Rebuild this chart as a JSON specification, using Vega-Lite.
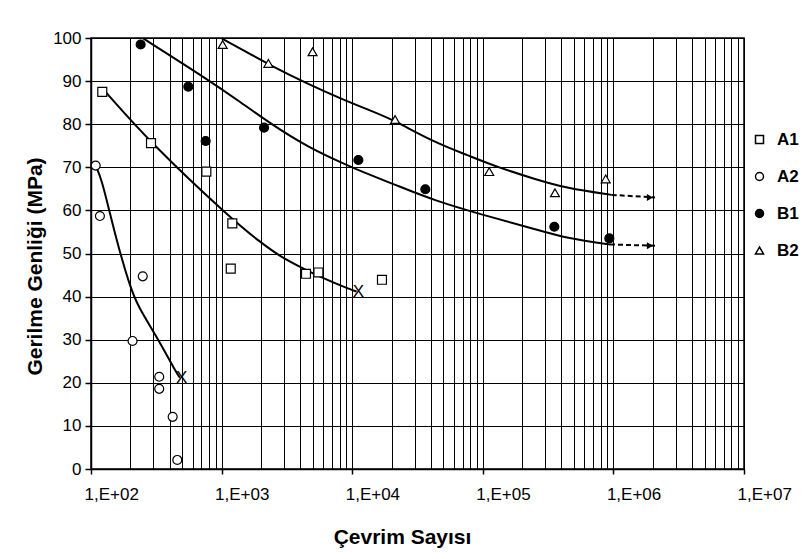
{
  "$schema": "https://vega.github.io/schema/vega-lite/v6.json",
  "autosize": {"type": "none"},
  "padding": {"left": 91, "top": 38, "right": 58, "bottom": 90},
  "width": 653,
  "height": 431,
  "background": "white",
  "config": {"view": {"stroke": "black", "strokeWidth": 1.5}, "font": "Liberation Sans"},
  "datasets": {
    "points": [
      {"series": "A1", "N": 122, "v": 87.5},
      {"series": "A1", "N": 288, "v": 75.6},
      {"series": "A1", "N": 764, "v": 69.0},
      {"series": "A1", "N": 1208, "v": 57.0},
      {"series": "A1", "N": 1175, "v": 46.5},
      {"series": "A1", "N": 4427, "v": 45.3},
      {"series": "A1", "N": 5510, "v": 45.6},
      {"series": "A1", "N": 16900, "v": 43.9},
      {"series": "A2", "N": 108.6, "v": 70.4},
      {"series": "A2", "N": 117, "v": 58.7},
      {"series": "A2", "N": 249, "v": 44.7},
      {"series": "A2", "N": 208, "v": 29.7},
      {"series": "A2", "N": 333, "v": 21.4},
      {"series": "A2", "N": 333, "v": 18.6},
      {"series": "A2", "N": 422, "v": 12.1},
      {"series": "A2", "N": 458, "v": 2.1},
      {"series": "B1", "N": 240, "v": 98.5},
      {"series": "B1", "N": 556, "v": 88.7},
      {"series": "B1", "N": 755, "v": 76.1},
      {"series": "B1", "N": 2113, "v": 79.2},
      {"series": "B1", "N": 11150, "v": 71.7},
      {"series": "B1", "N": 36300, "v": 64.9},
      {"series": "B1", "N": 353000, "v": 56.2},
      {"series": "B1", "N": 931000, "v": 53.5},
      {"series": "B2", "N": 1019, "v": 98.5},
      {"series": "B2", "N": 2281, "v": 94.1},
      {"series": "B2", "N": 4973, "v": 96.8},
      {"series": "B2", "N": 21300, "v": 81.1},
      {"series": "B2", "N": 112000, "v": 69.0},
      {"series": "B2", "N": 357000, "v": 64.1},
      {"series": "B2", "N": 873000, "v": 67.3}
    ],
    "curves": [
      {"series": "A1", "N": 125, "v": 88.0},
      {"series": "A1", "N": 286.4, "v": 75.6},
      {"series": "A1", "N": 1208, "v": 57.8},
      {"series": "A1", "N": 1968, "v": 52.7},
      {"series": "A1", "N": 2799, "v": 49.3},
      {"series": "A1", "N": 4426, "v": 46.2},
      {"series": "A1", "N": 5662, "v": 44.6},
      {"series": "A1", "N": 9908, "v": 41.5},
      {"series": "A1", "N": 10800, "v": 41.2},
      {"series": "A2", "N": 108.6, "v": 70.4},
      {"series": "A2", "N": 120.8, "v": 67.1},
      {"series": "A2", "N": 139.6, "v": 59.3},
      {"series": "A2", "N": 161.8, "v": 51.6},
      {"series": "A2", "N": 199.1, "v": 42.3},
      {"series": "A2", "N": 230.1, "v": 37.6},
      {"series": "A2", "N": 309, "v": 31.4},
      {"series": "A2", "N": 452.9, "v": 22.2},
      {"series": "A2", "N": 480, "v": 21.2},
      {"series": "B1", "N": 251.2, "v": 99.9},
      {"series": "B1", "N": 790.7, "v": 90.3},
      {"series": "B1", "N": 1384, "v": 85.2},
      {"series": "B1", "N": 2350, "v": 80.2},
      {"series": "B1", "N": 4487, "v": 74.8},
      {"series": "B1", "N": 9616, "v": 70.1},
      {"series": "B1", "N": 23230, "v": 65.5},
      {"series": "B1", "N": 41780, "v": 62.4},
      {"series": "B1", "N": 100900, "v": 58.9},
      {"series": "B1", "N": 243800, "v": 55.8},
      {"series": "B1", "N": 438500, "v": 53.5},
      {"series": "B1", "N": 941900, "v": 52.1},
      {"series": "B2", "N": 1002, "v": 99.9},
      {"series": "B2", "N": 1384, "v": 97.6},
      {"series": "B2", "N": 2489, "v": 93.3},
      {"series": "B2", "N": 4487, "v": 89.5},
      {"series": "B2", "N": 8072, "v": 86.0},
      {"series": "B2", "N": 14520, "v": 82.9},
      {"series": "B2", "N": 20650, "v": 81.0},
      {"series": "B2", "N": 41780, "v": 75.9},
      {"series": "B2", "N": 75340, "v": 72.9},
      {"series": "B2", "N": 135500, "v": 69.8},
      {"series": "B2", "N": 243800, "v": 67.4},
      {"series": "B2", "N": 438500, "v": 65.1},
      {"series": "B2", "N": 970500, "v": 63.6}
    ],
    "dashes": [
      {"series": "B1", "N": 941900, "v": 52.1},
      {"series": "B1", "N": 2084000, "v": 51.8},
      {"series": "B2", "N": 970500, "v": 63.6},
      {"series": "B2", "N": 2084000, "v": 63.0}
    ],
    "arrows": [
      {"series": "B1", "N": 1905000, "v": 51.8},
      {"series": "B2", "N": 1905000, "v": 63.0}
    ],
    "failures": [
      {"series": "A1", "N": 11140, "v": 41.0},
      {"series": "A2", "N": 494, "v": 21.0}
    ]
  },
  "encoding": {
    "x": {
      "field": "N",
      "type": "quantitative",
      "scale": {"type": "log", "domain": [100, 10000000], "nice": false, "zero": false},
      "axis": {
        "title": "Çevrim Sayısı",
        "values": [100, 200, 300, 400, 500, 600, 700, 800, 900, 1000, 2000, 3000, 4000, 5000, 6000, 7000, 8000, 9000, 10000, 20000, 30000, 40000, 50000, 60000, 70000, 80000, 90000, 100000, 200000, 300000, 400000, 500000, 600000, 700000, 800000, 900000, 1000000, 2000000, 3000000, 4000000, 5000000, 6000000, 7000000, 8000000, 9000000, 10000000],
        "labelExpr": "indexof([100,1000,10000,100000,1000000,10000000], datum.value) >= 0 ? '1,E+0' + round(log(datum.value)/LN10) : ''",
        "tickOpacity": {"condition": {"test": "indexof([100,1000,10000,100000,1000000,10000000], datum.value) >= 0", "value": 1}, "value": 0},
        "grid": true,
        "gridColor": "black",
        "gridOpacity": 1,
        "gridWidth": 1,
        "domainColor": "black",
        "domainWidth": 1.5,
        "tickColor": "black",
        "tickSize": 5,
        "tickWidth": 1.5,
        "labelFont": "Liberation Sans",
        "labelFontSize": 17,
        "labelColor": "black",
        "labelAlign": "left",
        "labelOffset": -7,
        "labelBaseline": "alphabetic",
        "labelPadding": 25,
        "labelFlush": false,
        "labelOverlap": false,
        "titleFont": "Liberation Sans",
        "titleFontSize": 21,
        "titleFontWeight": "bold",
        "titleColor": "black",
        "titleX": 311,
        "titleY": 74,
        "titleBaseline": "alphabetic",
        "titleAlign": "center"
      }
    },
    "y": {
      "field": "v",
      "type": "quantitative",
      "scale": {"domain": [0, 100], "nice": false},
      "axis": {
        "title": "Gerilme Genliği (MPa)",
        "values": [0, 10, 20, 30, 40, 50, 60, 70, 80, 90, 100],
        "grid": true,
        "gridColor": "black",
        "gridOpacity": 1,
        "gridWidth": 1,
        "domainColor": "black",
        "domainWidth": 1.5,
        "tickColor": "black",
        "tickSize": 6,
        "tickWidth": 1.5,
        "labelFont": "Liberation Sans",
        "labelFontSize": 17,
        "labelColor": "black",
        "labelPadding": 4,
        "labelFlush": false,
        "labelOverlap": false,
        "titleFont": "Liberation Sans",
        "titleFontSize": 21,
        "titleFontWeight": "bold",
        "titleColor": "black",
        "titleX": -50,
        "titleY": 228,
        "titleBaseline": "alphabetic",
        "titleAlign": "center",
        "titleAngle": 270
      }
    }
  },
  "layer": [
    {
      "data": {"name": "curves"},
      "mark": {"type": "line", "color": "black", "strokeWidth": 2, "interpolate": "basis"},
      "encoding": {"detail": {"field": "series", "type": "nominal"}}
    },
    {
      "data": {"name": "dashes"},
      "mark": {"type": "line", "color": "black", "strokeWidth": 2, "strokeDash": [5, 3]},
      "encoding": {"detail": {"field": "series", "type": "nominal"}}
    },
    {
      "data": {"name": "arrows"},
      "mark": {"type": "point", "shape": "triangle-right", "filled": true, "color": "black", "size": 50, "opacity": 1}
    },
    {
      "data": {"name": "failures"},
      "mark": {"type": "text", "font": "Liberation Sans", "fontSize": 17, "color": "black", "baseline": "middle", "align": "center"},
      "encoding": {"text": {"value": "X"}}
    },
    {
      "data": {"name": "points"},
      "mark": {"type": "point", "filled": true, "stroke": "black", "strokeWidth": 1.2, "size": 80, "opacity": 1},
      "encoding": {
        "shape": {
          "field": "series",
          "type": "nominal",
          "scale": {"domain": ["A1", "A2", "B1", "B2"], "range": ["square", "circle", "circle", "triangle-up"]},
          "legend": {
            "title": null,
            "orient": "none",
            "legendX": 660,
            "legendY": 93,
            "symbolSize": 64,
            "labelFont": "Liberation Sans",
            "labelFontSize": 17,
            "labelFontWeight": "bold",
            "labelColor": "black",
            "labelOffset": 9,
            "rowPadding": 19,
            "padding": 0,
            "encode": {
              "symbols": {
                "update": {
                  "fill": {"signal": "datum.value === 'B1' ? 'black' : 'white'"},
                  "stroke": {"value": "black"},
                  "strokeWidth": {"value": 1},
                  "opacity": {"value": 1}
                }
              }
            }
          }
        },
        "fill": {
          "field": "series",
          "type": "nominal",
          "scale": {"domain": ["A1", "A2", "B1", "B2"], "range": ["white", "white", "black", "white"]},
          "legend": null
        }
      }
    }
  ]
}
